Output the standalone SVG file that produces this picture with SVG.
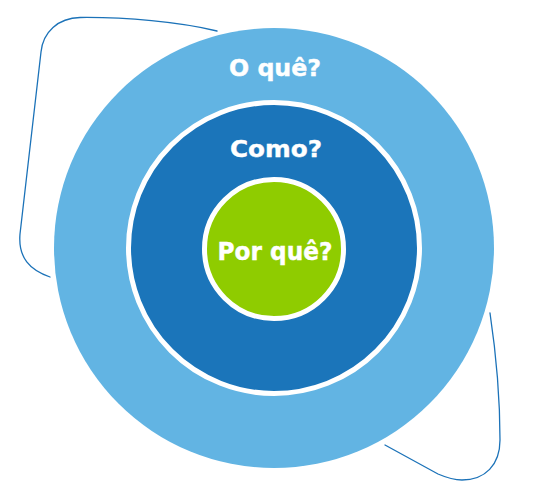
<svg xmlns="http://www.w3.org/2000/svg" width="548" height="500" viewBox="0 0 548 500">
<style>
.lbl{font-family:"DejaVu Sans","Liberation Sans",sans-serif;font-weight:bold;fill:#ffffff;stroke:#ffffff;stroke-width:0.4;text-anchor:middle}
.conn{fill:none;stroke:#1B72B8;stroke-width:1.3;stroke-linecap:round}
</style>
<g id="connectors">
<path class="conn" d="M217,31 C180,22 125,17 80,17.5 C58,18 43,32 41,52 L20,234 C18,258 30,270 50,277"/>
<path class="conn" d="M490,313 C497,360 500,400 500,440 C500,465 485,480 462,480 C452,480 445,477 438,474 L385,445"/>
</g>
<g id="outer">
<circle cx="274" cy="248" r="220" fill="#62B4E3"/>
<text class="lbl" x="275" y="76" font-size="22.5" textLength="92" lengthAdjust="spacingAndGlyphs">O quê?</text>
</g>
<g id="middle">
<circle cx="274" cy="248" r="145.5" fill="#1B75BA" stroke="#ffffff" stroke-width="5"/>
<text class="lbl" x="276" y="157" font-size="23.5" textLength="92" lengthAdjust="spacingAndGlyphs">Como?</text>
</g>
<g id="inner">
<circle cx="274" cy="249" r="69.5" fill="#8FCC00" stroke="#ffffff" stroke-width="5"/>
<text class="lbl" x="275" y="260" font-size="24.5" textLength="115" lengthAdjust="spacingAndGlyphs">Por quê?</text>
</g>
</svg>
